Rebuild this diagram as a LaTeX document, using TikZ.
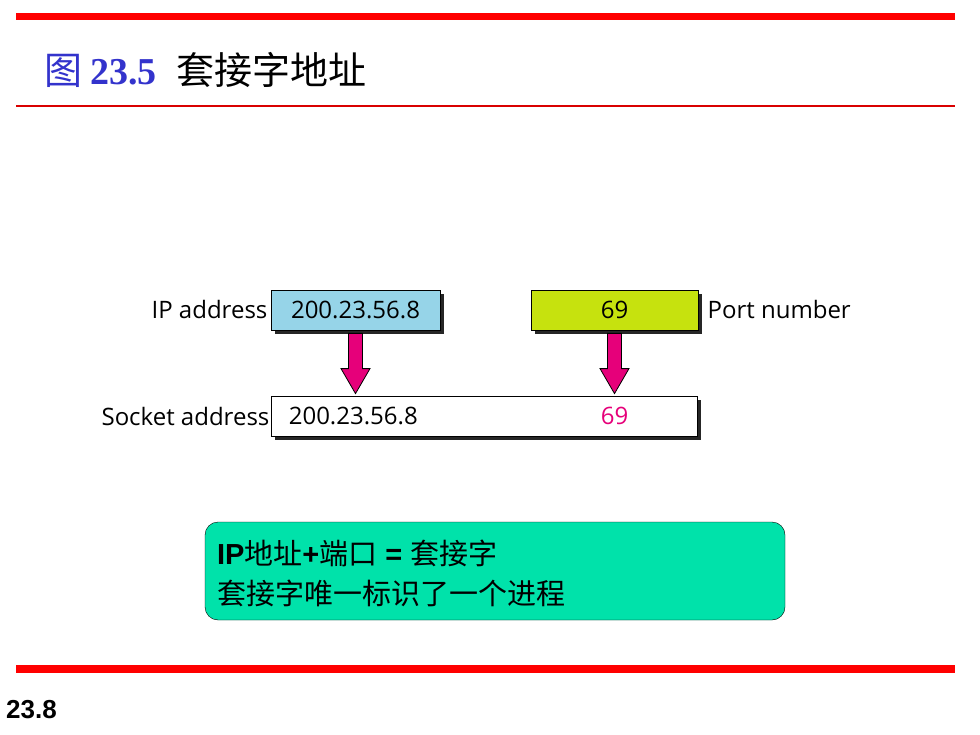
\documentclass[tikz,border=0pt]{standalone}
\usepackage{fontspec}
\setmainfont{Open Sans}
\newfontfamily\cjk{Noto Sans CJK SC}
\newfontfamily\arialfont{Liberation Sans}
\newfontfamily\timesfont{Liberation Serif}
\usepackage{xcolor}
\definecolor{ipblue}{RGB}{150,212,232}
\definecolor{portgreen}{RGB}{198,226,14}
\definecolor{arrowpink}{RGB}{230,0,122}
\definecolor{notegreen}{RGB}{0,226,170}
\definecolor{titleblue}{RGB}{51,51,204}
\definecolor{slidered}{RGB}{255,0,0}
\usetikzlibrary{positioning, calc, shadows}
\tikzset{
  Box/.style={draw, thick, inner sep=0pt, minimum height=40pt,
    font=\fontsize{24}{28}\selectfont,
    drop shadow={shadow xshift=4pt, shadow yshift=-4pt, fill=black!85, opacity=1}},
  Label/.style={inner sep=0pt, font=\fontsize{24}{28}\selectfont},
  BlockArrow/.style={draw=black, fill=arrowpink, line width=0.8pt,
    to path={let \p1=(\tikztostart), \p2=(\tikztotarget) in
      (\x1-7pt,\y1) -- (\x1-7pt,\y2+25pt) -- (\x1-14.5pt,\y2+25pt) -- (\x1,\y2)
      -- (\x1+14.5pt,\y2+25pt) -- (\x1+7pt,\y2+25pt) -- (\x1+7pt,\y1) -- cycle}}
}
\begin{document}
\begin{tikzpicture}[x=1pt, y=-1pt]
    \useasboundingbox (0,0) rectangle (980,735);
    % slide rules
    \draw[slidered, line width=7pt] (16,16.5) -- (955,16.5);
    \draw[red!85!black, line width=2pt] (16,106) -- (955,106);
    \draw[slidered, line width=8pt] (16,669) -- (955,669);

    \node[anchor=west, inner sep=0pt, font=\fontsize{38}{42}\selectfont] (title) at (44,70)
        {\textcolor{titleblue}{{\cjk 图}\hspace{8pt}{\timesfont\bfseries 23.5}}\hspace{20pt}{\cjk 套接字地址}};

    \node[Box, fill=ipblue, minimum width=169pt] (ip) at (355.5,310) {200.23.56.8};
    \node[Box, fill=portgreen, minimum width=167pt] (port) at (614.5,310) {69};
    \node[Box, fill=white, minimum width=426pt] (sock) at (484,416) {};
    \node[Label, anchor=west] (sockip) at ([xshift=18pt]sock.west) {200.23.56.8};
    \node[Label, text=arrowpink] (sockport) at (port |- sock) {69};

    \node[Label, left=3pt of ip] (iplabel) {IP address};
    \node[Label, right=9pt of port] (portlabel) {Port number};
    \node[Label, left=1pt of sock] (socklabel) {Socket address};

    \draw[BlockArrow] ([yshift=-3pt]ip.south) to ([yshift=2pt]ip.south |- sock.north);
    \draw[BlockArrow] ([yshift=-3pt]port.south) to ([yshift=2pt]port.south |- sock.north);

    \node[draw, thin, fill=notegreen, rounded corners=13pt, minimum width=580pt,
        minimum height=98pt] (note) at (495,571) {};
    \node[anchor=west, align=left, inner sep=0pt, font=\fontsize{29}{40}\selectfont] (notetext)
        at ([xshift=12pt,yshift=-2pt]note.west)
        {{\arialfont\bfseries IP}{\cjk 地址}{\arialfont\bfseries +}{\cjk 端口}{\arialfont\bfseries{} = }{\cjk 套接字}\\
         {\cjk 套接字唯一标识了一个进程}};

    \node[anchor=west, inner sep=0pt, font=\arialfont\bfseries\fontsize{26}{30}\selectfont] (pageno)
        at (6,710) {23.8};
\end{tikzpicture}
\end{document}
